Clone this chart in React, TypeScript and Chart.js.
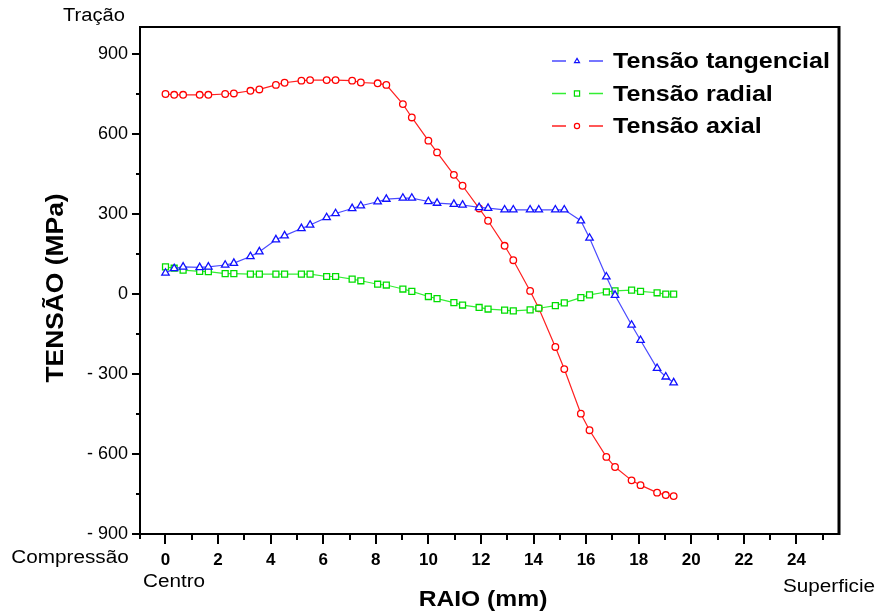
import React, { useEffect, useRef } from 'react';
import { Chart, registerables } from 'chart.js';
Chart.register(...registerables);

const FONT = '"Liberation Sans", Arial, sans-serif';

const raio = [0, 0.33, 0.67, 1.3, 1.63, 2.27, 2.6, 3.23, 3.57, 4.2, 4.53, 5.17, 5.5, 6.13, 6.47, 7.1, 7.43, 8.07, 8.4, 9.03, 9.37, 10.0, 10.33, 10.97, 11.3, 11.93, 12.27, 12.9, 13.23, 13.87, 14.2, 14.83, 15.17, 15.8, 16.13, 16.77, 17.1, 17.73, 18.07, 18.7, 19.03, 19.33];
const tangencial = [78, 95, 101, 99, 101, 108, 115, 140, 158, 203, 218, 245, 258, 286, 301, 320, 330, 345, 355, 359, 359, 346, 340, 336, 333, 324, 321, 315, 315, 315, 315, 315, 315, 274, 209, 64, -5, -117, -174, -279, -311, -333];
const radial = [101, 96, 89, 84, 83, 76, 76, 74, 74, 74, 74, 74, 74, 65, 65, 55, 49, 36, 33, 18, 9, -10, -18, -33, -42, -51, -57, -61, -64, -60, -54, -44, -34, -14, -4, 7, 11, 14, 9, 4, -1, -1];
const axial = [749, 746, 746, 746, 746, 749, 751, 761, 766, 783, 791, 799, 801, 801, 801, 799, 792, 789, 783, 711, 661, 574, 530, 446, 405, 320, 274, 180, 126, 11, -54, -199, -282, -449, -511, -611, -649, -699, -717, -745, -754, -758];

const seriesLabels = ['Tensão tangencial', 'Tensão radial', 'Tensão axial'];
const xTicks = [0, 2, 4, 6, 8, 10, 12, 14, 16, 18, 20, 22, 24];
const yTicks = [-900, -600, -300, 0, 300, 600, 900];
const xMinorStep = 1;
const yMinorStep = 150;

function txt(ctx: CanvasRenderingContext2D, s: string, x: number, y: number, font: string, align: CanvasTextAlign, sx = 1, rot = 0) {
  ctx.save();
  ctx.translate(x, y);
  if (rot) ctx.rotate(rot);
  ctx.scale(sx, 1);
  ctx.font = font;
  ctx.textAlign = align;
  ctx.textBaseline = 'middle';
  ctx.fillStyle = '#000';
  ctx.fillText(s, 0, 0);
  ctx.restore();
}

function marker(ctx: CanvasRenderingContext2D, shape: string, x: number, y: number, r: number, color: string) {
  ctx.save();
  ctx.strokeStyle = color;
  ctx.lineWidth = 1.2;
  ctx.fillStyle = '#fff';
  ctx.beginPath();
  if (shape === 'circle') ctx.arc(x, y, r, 0, Math.PI * 2);
  else if (shape === 'rect') ctx.rect(x - r, y - r, 2 * r, 2 * r);
  else {
    ctx.moveTo(x, y - r);
    ctx.lineTo(x + r * 0.95, y + r * 0.6);
    ctx.lineTo(x - r * 0.95, y + r * 0.6);
    ctx.closePath();
  }
  ctx.fill();
  ctx.stroke();
  ctx.restore();
}

const decor = {
  id: 'decor',
  afterDraw(chart: any) {
    const { ctx, chartArea: a, scales } = chart;
    const xs = scales.x, ys = scales.y;
    ctx.save();
    ctx.strokeStyle = '#000';
    ctx.lineCap = 'butt';
    ctx.lineWidth = 2;
    ctx.beginPath();
    ctx.moveTo(a.left, a.bottom + 5);
    ctx.lineTo(a.left, a.top);
    ctx.lineTo(a.right, a.top);
    ctx.stroke();
    ctx.beginPath();
    ctx.moveTo(a.left, a.bottom);
    ctx.lineTo(a.right, a.bottom);
    ctx.stroke();
    ctx.lineWidth = 3;
    ctx.beginPath();
    ctx.moveTo(a.right, a.top - 1);
    ctx.lineTo(a.right, a.bottom + 1);
    ctx.stroke();
    ctx.lineWidth = 2;
    for (let v = yTicks[0]; v <= yTicks[yTicks.length - 1]; v += yMinorStep) {
      const py = Math.round(ys.getPixelForValue(v));
      const len = yTicks.includes(v) ? 8 : 4;
      ctx.beginPath();
      ctx.moveTo(a.left - len, py);
      ctx.lineTo(a.left, py);
      ctx.stroke();
    }
    for (let v = 0; v <= 25; v += xMinorStep) {
      const px = Math.round(xs.getPixelForValue(v));
      const len = xTicks.includes(v) ? 10 : 6;
      ctx.beginPath();
      ctx.moveTo(px, a.bottom);
      ctx.lineTo(px, a.bottom + len);
      ctx.stroke();
    }
    ctx.restore();

    txt(ctx, 'Tração', 94, 16, `18px ${FONT}`, 'center', 1.12);
    txt(ctx, 'Compressão', 70, 558, `18px ${FONT}`, 'center', 1.15);
    txt(ctx, 'Centro', 174, 582, `18px ${FONT}`, 'center', 1.15);
    txt(ctx, 'Superficie', 829, 587, `18px ${FONT}`, 'center', 1.15);
    txt(ctx, 'RAIO (mm)', 483, 600, `bold 22px ${FONT}`, 'center', 1.12);
    txt(ctx, 'TENSÃO (MPa)', 56, 288, `bold 24px ${FONT}`, 'center', 1.1, -Math.PI / 2);

    const shapes = ['triangle', 'rect', 'circle'];
    chart.data.datasets.forEach((ds: any, i: number) => {
      const yy = 61 + i * 32.5;
      ctx.save();
      ctx.strokeStyle = ds.borderColor;
      ctx.lineWidth = 1.5;
      ctx.beginPath();
      ctx.moveTo(552, yy); ctx.lineTo(566, yy);
      ctx.moveTo(589, yy); ctx.lineTo(603, yy);
      ctx.stroke();
      ctx.restore();
      marker(ctx, shapes[i], 577, yy, 2.6, ds.pointBorderColor);
      txt(ctx, ds.label, 613, yy + 1, `bold 22px ${FONT}`, 'left', 1.14);
    });
  },
};

export default function App() {
  const ref = useRef<HTMLCanvasElement>(null);
  useEffect(() => {
    document.body.style.margin = '0';
    const mk = (arr: number[]) => raio.map((x, i) => ({ x, y: arr[i] }));
    const chart = new Chart(ref.current!, {
      type: 'line',
      data: {
        datasets: [
          { label: seriesLabels[0], data: mk(tangencial), borderColor: '#4a4aff', pointBorderColor: '#1010ff', pointBackgroundColor: '#fff', pointStyle: 'triangle', pointRadius: 4.3, pointBorderWidth: 1.3, borderWidth: 1.2 },
          { label: seriesLabels[1], data: mk(radial), borderColor: '#33ee33', pointBorderColor: '#00dd00', pointBackgroundColor: '#fff', pointStyle: 'rect', pointRadius: 4.2, pointBorderWidth: 1.3, borderWidth: 1.2 },
          { label: seriesLabels[2], data: mk(axial), borderColor: '#ff2020', pointBorderColor: '#ff0000', pointBackgroundColor: '#fff', pointStyle: 'circle', pointRadius: 3.3, pointBorderWidth: 1.3, borderWidth: 1.2 },
        ],
      },
      options: {
        animation: false,
        responsive: false,
        layout: { padding: { left: 0, right: 40, top: 27, bottom: 0 } },
        plugins: { legend: { display: false }, tooltip: { enabled: false } },
        elements: { line: { tension: 0 } },
        scales: {
          x: {
            type: 'linear',
            min: -0.97,
            max: 25.62,
            afterBuildTicks: (s: any) => { s.ticks = xTicks.map((v) => ({ value: v })); },
            afterFit: (s: any) => { s.height = 79; },
            grid: { display: false },
            border: { display: false },
            ticks: { font: { family: FONT, size: 17, weight: 'bold' }, color: '#000', padding: 8, maxRotation: 0, autoSkip: false },
          },
          y: {
            type: 'linear',
            min: -900,
            max: 1000,
            afterBuildTicks: (s: any) => { s.ticks = yTicks.map((v) => ({ value: v })); },
            afterFit: (s: any) => { s.width = 140; },
            grid: { display: false },
            border: { display: false },
            ticks: {
              font: { family: FONT, size: 18 },
              color: '#000',
              padding: 4,
              autoSkip: false,
              callback: (v: any) => (v < 0 ? '- ' + Math.abs(v) : String(v)),
            },
          },
        },
      },
      plugins: [decor],
    });
    return () => chart.destroy();
  }, []);
  return (
    <div style={{ position: 'absolute', left: 0, top: 0, width: 879, height: 613, background: '#fff' }}>
      <canvas ref={ref} width={879} height={613} />
    </div>
  );
}
